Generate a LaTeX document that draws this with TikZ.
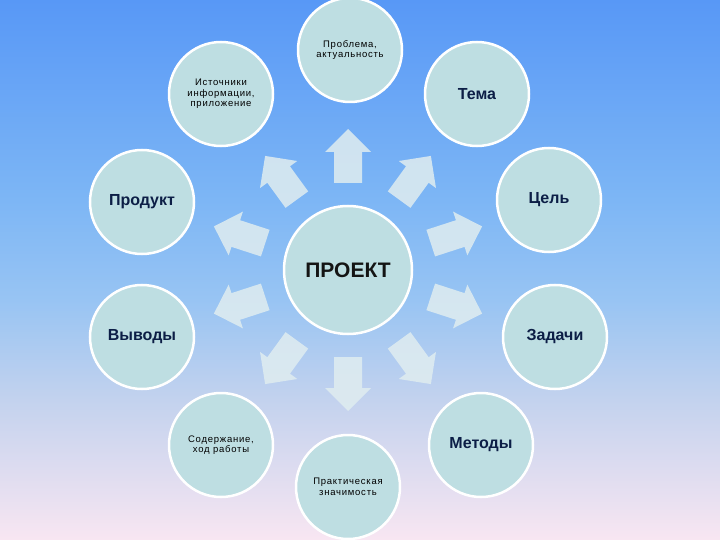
\documentclass[tikz,border=0pt]{standalone}
\usepackage{fontspec}
\setmainfont{Liberation Sans}
\newfontfamily\smallfam[LetterSpace=8]{Liberation Sans}
\definecolor{circfill}{RGB}{190,222,226}
\definecolor{arrowfill}{RGB}{224,237,240}
\definecolor{navy}{RGB}{12,30,70}
\pgfdeclareverticalshading{bgshade}{100bp}{%
  rgb(0bp)=(0.973,0.902,0.949);
  rgb(25bp)=(0.973,0.902,0.949);
  rgb(37.96bp)=(0.765,0.824,0.933);
  rgb(47.22bp)=(0.596,0.769,0.953);
  rgb(56.48bp)=(0.490,0.714,0.961);
  rgb(75bp)=(0.345,0.596,0.965);
  rgb(100bp)=(0.345,0.596,0.965)}
\tikzset{
  bubble/.style={circle, draw=white, line width=2.5pt, fill=circfill, minimum size=104pt, inner sep=0pt, align=center},
  small/.style={font=\smallfam\fontsize{9.5}{10.5}\selectfont, text=black},
  big/.style={font=\fontsize{16}{19}\selectfont\bfseries, text=navy},
  blockarrow/.style={fill=arrowfill, fill opacity=0.85, draw=none}
}
\begin{document}
\begin{tikzpicture}[x=1pt,y=-1pt]
\shade[shading=bgshade] (0,0) rectangle (720,540);
\useasboundingbox (0,0) rectangle (720,540);
\clip (0,0) rectangle (720,540);
\coordinate (c0) at (348,270);
\foreach \a in {90,54,18,-18,-54,-90,-126,-162,162,126}{
  \begin{scope}[shift={(c0)}, x=1pt, y=1pt, rotate=\a]
    \fill[blockarrow] (87,-14) -- (118,-14) -- (118,-23) -- (141,0) -- (118,23) -- (118,14) -- (87,14) -- cycle;
  \end{scope}
}
\node[bubble, minimum size=128pt, font=\fontsize{21}{24}\selectfont\bfseries, text=black!92] (c) at (348,270) {ПРОЕКТ};
\node[bubble, small] (p1) at (350,50) {Проблема,\\актуальность};
\node[bubble, big] (p2) at (477,94) {Тема};
\node[bubble, big] (p3) at (549,200) {Цель};
\node[bubble, big] (p4) at (555,337) {Задачи};
\node[bubble, big] (p5) at (481,445) {Методы};
\node[bubble, small] (p6) at (348,487) {Практическая\\значимость};
\node[bubble, small] (p7) at (221,445) {Содержание,\\ход работы};
\node[bubble, big] (p8) at (142,337) {Выводы};
\node[bubble, big] (p9) at (142,202) {Продукт};
\node[bubble, small] (p10) at (221,94) {Источники\\информации,\\приложение};
\end{tikzpicture}
\end{document}
